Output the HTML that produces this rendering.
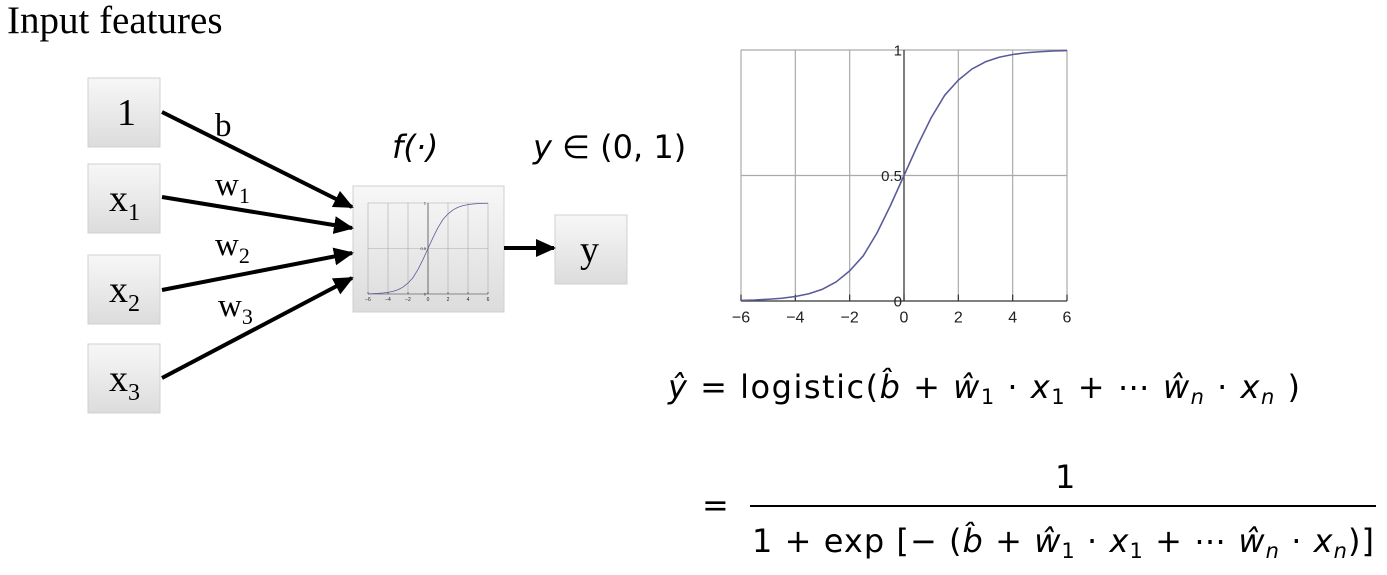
<!DOCTYPE html>
<html><head><meta charset="utf-8"><style>
html,body{margin:0;padding:0;background:#fff;width:1387px;height:575px;overflow:hidden}
svg{display:block}
.serif{font-family:"Liberation Serif",serif}
.sans{font-family:"DejaVu Sans","Liberation Sans",sans-serif}
</style></head><body>
<svg id="s" width="1387" height="575" xmlns="http://www.w3.org/2000/svg">
<defs>
<linearGradient id="bg" x1="0" y1="0" x2="0" y2="1"><stop offset="0" stop-color="#f7f7f7"/><stop offset="1" stop-color="#dcdcdc"/></linearGradient>
<marker id="ah" markerWidth="5" markerHeight="4.5" refX="4.5" refY="2.25" orient="auto" markerUnits="strokeWidth"><path d="M0,0 L5,2.25 L0,4.5 z" fill="#000"/></marker>
</defs>
<text x="7" y="33" font-size="39" class="serif">Input features</text>
<g id="boxes"></g>
<g id="arrows"></g>
<g id="labels" class="serif"></g>
<g id="mini"></g>
<g id="big"></g>
<g class="sans" font-size="32">
<text x="392" y="158" font-style="italic">f(·)</text>
<text x="533" y="158"><tspan font-style="italic">y</tspan> ∈ (0, 1)</text>
<text x="668" y="398" textLength="632" lengthAdjust="spacing"><tspan font-style="italic">ŷ</tspan> =  logistic(<tspan font-style="italic">b̂</tspan> + <tspan font-style="italic">ŵ</tspan><tspan font-size="21" dy="6">1</tspan><tspan dy="-6"> · </tspan><tspan font-style="italic">x</tspan><tspan font-size="21" dy="6">1</tspan><tspan dy="-6"> + ⋯ </tspan><tspan font-style="italic">ŵ</tspan><tspan font-size="21" font-style="italic" dy="6">n</tspan><tspan dy="-6"> · </tspan><tspan font-style="italic">x</tspan><tspan font-size="21" font-style="italic" dy="6">n</tspan><tspan dy="-6"> )</tspan></text>
<text x="702" y="516">=</text>
<text x="1055" y="488">1</text>
<line x1="750" y1="506" x2="1376" y2="506" stroke="#000" stroke-width="2"/>
<text x="752" y="552" textLength="622" lengthAdjust="spacing">1 + exp [− (<tspan font-style="italic">b̂</tspan> + <tspan font-style="italic">ŵ</tspan><tspan font-size="21" dy="6">1</tspan><tspan dy="-6"> · </tspan><tspan font-style="italic">x</tspan><tspan font-size="21" dy="6">1</tspan><tspan dy="-6"> + ⋯ </tspan><tspan font-style="italic">ŵ</tspan><tspan font-size="21" font-style="italic" dy="6">n</tspan><tspan dy="-6"> · </tspan><tspan font-style="italic">x</tspan><tspan font-size="21" font-style="italic" dy="6">n</tspan><tspan dy="-6">)]</tspan></text>
</g>
</svg>
<script>
const xVals=[-6,-5.5,-5,-4.5,-4,-3.5,-3,-2.5,-2,-1.5,-1,-0.5,0,0.5,1,1.5,2,2.5,3,3.5,4,4.5,5,5.5,6];
const yVals=[0.0025,0.004,0.007,0.011,0.018,0.029,0.047,0.076,0.12,0.18,0.27,0.38,0.5,0.62,0.73,0.82,0.88,0.924,0.953,0.971,0.982,0.989,0.993,0.996,0.9975];
const xTicks=[-6,-4,-2,0,2,4,6];
const yTicks=[0,0.5,1];
const NS="http://www.w3.org/2000/svg";
function el(t,a,p){const e=document.createElementNS(NS,t);for(const k in a)e.setAttribute(k,a[k]);p.appendChild(e);return e;}
function chart(g,x0,x1,y0,y1,fs,yfs,lw,prefix){
  const sx=v=>x0+(v+6)/12*(x1-x0), sy=v=>y1-v*(y1-y0);
  xTicks.forEach(t=>{const l=el('line',{x1:sx(t),x2:sx(t),y1:y0,y2:y1,stroke:'#aaa','stroke-width':lw},g);
    
    
    const tk=el('line',{x1:sx(t),x2:sx(t),y1:y1-fs*0.4,y2:y1,stroke:'#333','stroke-width':lw},g);
    
    
    const tx=el('text',{x:sx(t),y:y1+fs*1.35,'font-size':fs,'text-anchor':'middle','font-family':'Liberation Sans,sans-serif',fill:'#222'},g);tx.textContent=(t<0?'−':'')+Math.abs(t);
    
    });
  yTicks.forEach(t=>{const l=el('line',{x1:x0,x2:x1,y1:sy(t),y2:sy(t),stroke:t===0?'#333':'#aaa','stroke-width':lw},g);
    
    
    const tx=el('text',{x:sx(0)-2,y:sy(t)+yfs*0.35,'font-size':yfs,'text-anchor':'end','font-family':'Liberation Sans,sans-serif',fill:'#222'},g);tx.textContent=String(t);
    
    });
  const ax=el('line',{x1:sx(0),x2:sx(0),y1:y0,y2:y1,stroke:'#333','stroke-width':lw},g);
  
  
  const p=el('polyline',{points:xVals.map((x,i)=>sx(x)+','+sy(yVals[i])).join(' '),fill:'none',stroke:'#5a5a9a','stroke-width':lw*1.3,'stroke-linejoin':'round'},g);
  
  
}
const boxes=[[88,78,'1'],[88,164,'x','1'],[88,255,'x','2'],[88,344,'x','3']];
const bg=document.getElementById('boxes');
boxes.forEach((b,i)=>{const r=el('rect',{x:b[0],y:b[1],width:72,height:69,fill:'url(#bg)',stroke:'#d0d0d0'},bg);
  
  
  const t=el('text',{x:b[0]+(b[3]?21:29),y:b[1]+47,'font-size':38,'font-family':'Liberation Serif,serif'},bg);
  
  
  t.textContent=b[2];if(b[3]){const s=el('tspan',{'font-size':24,dy:9},t);s.textContent=b[3];}});
const sb=el('rect',{x:353,y:186,width:151,height:126,fill:'url(#bg)',stroke:'#d0d0d0'},bg);


const yb=el('rect',{x:555,y:215,width:72,height:69,fill:'url(#bg)',stroke:'#d0d0d0'},bg);


const yt=el('text',{x:580,y:262,'font-size':38,'font-family':'Liberation Serif,serif'},bg);yt.textContent='y';


const arr=[[162,112,352,207],[162,197,352,228],[162,290,352,253],[162,378,352,278],[504,248,554,248]];
const ag=document.getElementById('arrows');
arr.forEach((a,i)=>{const l=el('line',{x1:a[0],y1:a[1],x2:a[2],y2:a[3],stroke:'#000','stroke-width':4,'marker-end':'url(#ah)'},ag);
  
  });
const lab=[[215,136,'b',''],[215,195,'w','1'],[215,255,'w','2'],[218,316,'w','3']];
const lg=document.getElementById('labels');
lab.forEach((a,i)=>{const t=el('text',{x:a[0],y:a[1],'font-size':33},lg);t.textContent=a[2];
  
  
  if(a[3]){const s=el('tspan',{'font-size':22,dy:8},t);s.textContent=a[3];}});
chart(document.getElementById('mini'),368,488,203,294,5,4,0.6,'mini-');
chart(document.getElementById('big'),741,1067,50,301,16,15,1.2,'big-');
</script>
</body></html>
